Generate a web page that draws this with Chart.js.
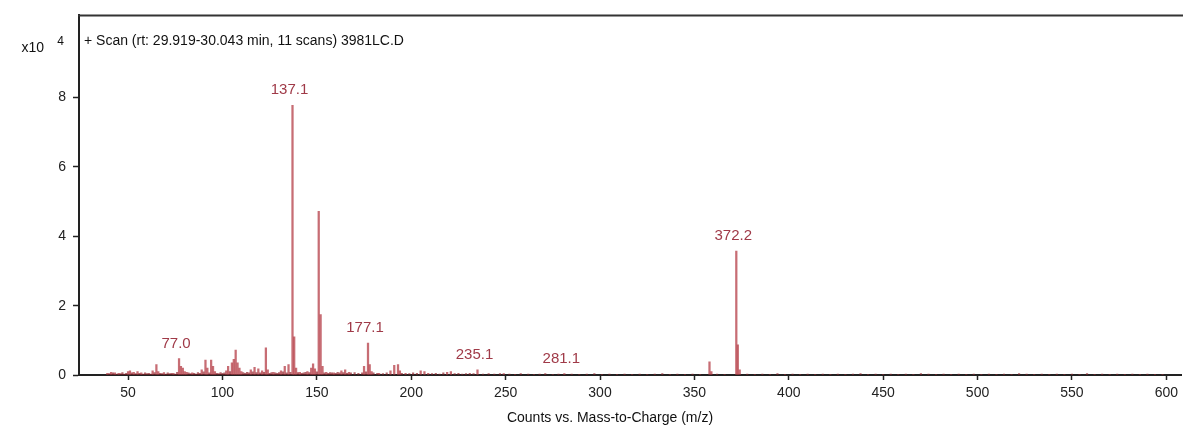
<!DOCTYPE html>
<html>
<head>
<meta charset="utf-8">
<script src="https://cdn.jsdelivr.net/npm/chart.js@4"></script>
<style>
  html, body { margin: 0; padding: 0; background: #fff; }
  canvas { display: block; }
</style>
</head>
<body>
<canvas id="msChart" width="1183" height="432"></canvas>
<script>
// main ion peaks, counts x10^4
var peakMz = [39, 41, 43, 45, 50, 51, 53, 55, 57, 63, 65, 66, 69, 74, 77, 78, 79, 80, 81, 84,
  89, 91, 92, 94, 95, 96, 102, 103, 105, 106, 107, 108, 109, 110, 115, 117, 119, 121, 123, 124,
  127, 131, 133, 135, 137.1, 138, 139, 141, 145, 147, 148, 149, 151, 152, 153, 155, 159, 163, 165, 167,
  175, 177.1, 178, 179, 183, 189, 191, 193, 194, 197, 205, 207, 209, 219, 221, 235.1, 249, 281.1,
  358, 359, 372.2, 373, 374];
var peakCounts = [0.05, 0.08, 0.06, 0.05, 0.1, 0.12, 0.08, 0.1, 0.06, 0.12, 0.3, 0.1, 0.07, 0.05, 0.47, 0.25, 0.2, 0.1, 0.08, 0.06,
  0.15, 0.43, 0.2, 0.43, 0.25, 0.1, 0.12, 0.25, 0.35, 0.45, 0.72, 0.35, 0.2, 0.1, 0.15, 0.22, 0.18, 0.12, 0.78, 0.15,
  0.08, 0.12, 0.25, 0.3, 7.78, 1.1, 0.2, 0.08, 0.1, 0.2, 0.32, 0.18, 4.72, 1.74, 0.25, 0.08, 0.06, 0.12, 0.15, 0.08,
  0.25, 0.92, 0.3, 0.1, 0.05, 0.12, 0.28, 0.3, 0.12, 0.05, 0.12, 0.1, 0.05, 0.08, 0.1, 0.15, 0.04, 0.04,
  0.38, 0.1, 3.57, 0.87, 0.15];

// baseline noise
var noiseMz = [40, 42, 44, 46, 47, 48, 49, 52, 54, 56, 58, 59, 60, 61, 62, 64, 67, 68, 70, 71, 72, 73, 75, 76,
  82, 83, 85, 86, 87, 88, 90, 93, 97, 98, 99, 100, 101, 104, 111, 112, 113, 114, 116, 118, 120, 122, 125, 126,
  128, 129, 130, 132, 134, 136, 140, 142, 143, 144, 146, 150, 154, 156, 157, 158, 160, 161, 162, 164, 166, 168,
  170, 172, 174, 176, 180, 182, 185, 187, 195, 199, 201, 203, 211, 213, 215, 217, 223, 225, 227, 229, 231, 233,
  238, 241, 244, 247, 252, 255, 258, 262, 265, 268, 271, 275, 278, 285, 289, 293, 297, 301, 305, 309, 313, 317,
  321, 325, 329, 333, 337, 341, 345, 349, 353, 362, 366, 378, 382, 386, 390, 394, 398, 402, 406, 410, 414, 418,
  422, 426, 430, 434, 438, 442, 446, 450, 454, 458, 462, 466, 470, 474, 478, 482, 486, 490, 494, 498, 502, 506,
  510, 514, 518, 522, 526, 530, 534, 538, 542, 546, 550, 554, 558, 562, 566, 570, 574, 578, 582, 586, 590, 594, 598];
var noiseCounts = [0.04, 0.06, 0.03, 0.04, 0.07, 0.03, 0.05, 0.06, 0.04, 0.05, 0.03, 0.06, 0.04, 0.05, 0.03, 0.07, 0.05, 0.04, 0.03, 0.06, 0.04, 0.05, 0.03, 0.08,
  0.06, 0.04, 0.05, 0.03, 0.07, 0.05, 0.09, 0.06, 0.05, 0.04, 0.07, 0.05, 0.06, 0.1, 0.07, 0.05, 0.08, 0.06, 0.09, 0.07, 0.06, 0.08, 0.05, 0.07,
  0.06, 0.05, 0.07, 0.09, 0.06, 0.08, 0.07, 0.05, 0.06, 0.08, 0.07, 0.09, 0.06, 0.05, 0.07, 0.06, 0.05, 0.08, 0.06, 0.07, 0.05, 0.06,
  0.07, 0.05, 0.06, 0.09, 0.06, 0.05, 0.04, 0.06, 0.05, 0.04, 0.06, 0.05, 0.04, 0.05, 0.03, 0.06, 0.04, 0.05, 0.03, 0.04, 0.05, 0.04,
  0.03, 0.04, 0.03, 0.04, 0.03, 0.02, 0.04, 0.03, 0.02, 0.03, 0.04, 0.02, 0.03, 0.03, 0.02, 0.03, 0.04, 0.02, 0.03, 0.02, 0.03, 0.02,
  0.03, 0.02, 0.03, 0.04, 0.02, 0.03, 0.02, 0.03, 0.02, 0.03, 0.02, 0.03, 0.02, 0.03, 0.02, 0.04, 0.02, 0.03, 0.02, 0.03, 0.02, 0.03,
  0.02, 0.03, 0.02, 0.03, 0.04, 0.02, 0.03, 0.02, 0.03, 0.02, 0.03, 0.02, 0.04, 0.03, 0.02, 0.03, 0.02, 0.03, 0.02, 0.03, 0.02, 0.03,
  0.02, 0.03, 0.02, 0.04, 0.03, 0.02, 0.03, 0.02, 0.03, 0.02, 0.03, 0.02, 0.04, 0.02, 0.03, 0.02, 0.03, 0.02, 0.03, 0.02, 0.03, 0.02, 0.02];

var labelMz = [77.0, 137.1, 177.1, 235.1, 281.1, 372.2];
var labelText = ['77.0', '137.1', '177.1', '235.1', '281.1', '372.2'];

var xTicks = [50, 100, 150, 200, 250, 300, 350, 400, 450, 500, 550, 600];
var yTicks = [0, 2, 4, 6, 8];

var titleText = '+ Scan (rt: 29.919-30.043 min, 11 scans) 3981LC.D';
var xTitle = 'Counts vs. Mass-to-Charge (m/z)';

var FONT = '"Liberation Sans", Arial, sans-serif';
var peakColor = 'rgba(180, 60, 70, 0.75)';
var labelColor = '#a03a48';

function toPoints(xs, ys) {
  return xs.map(function (x, i) { return { x: x, y: ys[i] }; });
}

function countAt(mz) {
  var i = peakMz.indexOf(mz);
  return i >= 0 ? peakCounts[i] : 0;
}

var decorPlugin = {
  id: 'decor',
  afterDraw: function (chart) {
    var ctx = chart.ctx;
    var area = chart.chartArea;
    var xs = chart.scales.x;
    var ys = chart.scales.y;
    ctx.save();
    // top frame line
    ctx.strokeStyle = '#333';
    ctx.lineWidth = 2;
    ctx.beginPath();
    ctx.moveTo(area.left - 1, area.top);
    ctx.lineTo(chart.width, area.top);
    ctx.stroke();

    ctx.fillStyle = '#111';
    ctx.font = '14px ' + FONT;
    ctx.textBaseline = 'middle';
    ctx.textAlign = 'left';
    ctx.fillText(titleText, area.left + 5, area.top + 26);

    // exponent label
    ctx.textAlign = 'right';
    ctx.fillText('x10', 44, 48);
    ctx.font = '12px ' + FONT;
    ctx.fillText('4', 64, 42);

    // x axis title
    ctx.font = '14px ' + FONT;
    ctx.textAlign = 'center';
    ctx.fillText(xTitle, 610, 418);

    // peak labels
    ctx.fillStyle = labelColor;
    ctx.font = '15px ' + FONT;
    labelMz.forEach(function (mz, i) {
      var px = xs.getPixelForValue(mz) - 3;
      var py = ys.getPixelForValue(countAt(mz)) - 15;
      ctx.fillText(labelText[i], px, py);
    });
    ctx.restore();
  }
};

new Chart(document.getElementById('msChart').getContext('2d'), {
  type: 'bar',
  data: {
    datasets: [{
      label: 'noise',
      data: toPoints(noiseMz, noiseCounts),
      backgroundColor: 'rgba(150, 40, 48, 0.7)',
      barThickness: 1.5,
      grouped: false
    }, {
      label: 'peaks',
      data: toPoints(peakMz, peakCounts),
      backgroundColor: peakColor,
      barThickness: 1.6,
      grouped: false
    }]
  },
  options: {
    responsive: false,
    animation: false,
    layout: { padding: { top: 15, right: 0, left: 0, bottom: 0 } },
    plugins: {
      legend: { display: false },
      tooltip: { enabled: false }
    },
    scales: {
      x: {
        type: 'linear',
        min: 24,
        max: 608,
        offset: false,
        afterBuildTicks: function (scale) {
          scale.ticks = xTicks.map(function (v) { return { value: v }; });
        },
        afterFit: function (scale) { scale.height = 57; },
        grid: { offset: false, drawOnChartArea: false, drawTicks: true, tickLength: 5, tickColor: '#222', tickWidth: 1.5 },
        border: { display: true, color: '#222', width: 2 },
        ticks: { color: '#222', font: { family: FONT, size: 14 }, padding: 5, maxRotation: 0, autoSkip: false }
      },
      y: {
        type: 'linear',
        min: 0,
        max: 10.37,
        afterBuildTicks: function (scale) {
          scale.ticks = yTicks.map(function (v) { return { value: v }; });
        },
        afterFit: function (scale) { scale.width = 79; },
        grid: { offset: false, drawOnChartArea: false, drawTicks: true, tickLength: 6, tickColor: '#222', tickWidth: 1.5 },
        border: { display: true, color: '#222', width: 2 },
        ticks: { color: '#222', font: { family: FONT, size: 14 }, padding: 7 }
      }
    }
  },
  plugins: [decorPlugin]
});
</script>
</body>
</html>
